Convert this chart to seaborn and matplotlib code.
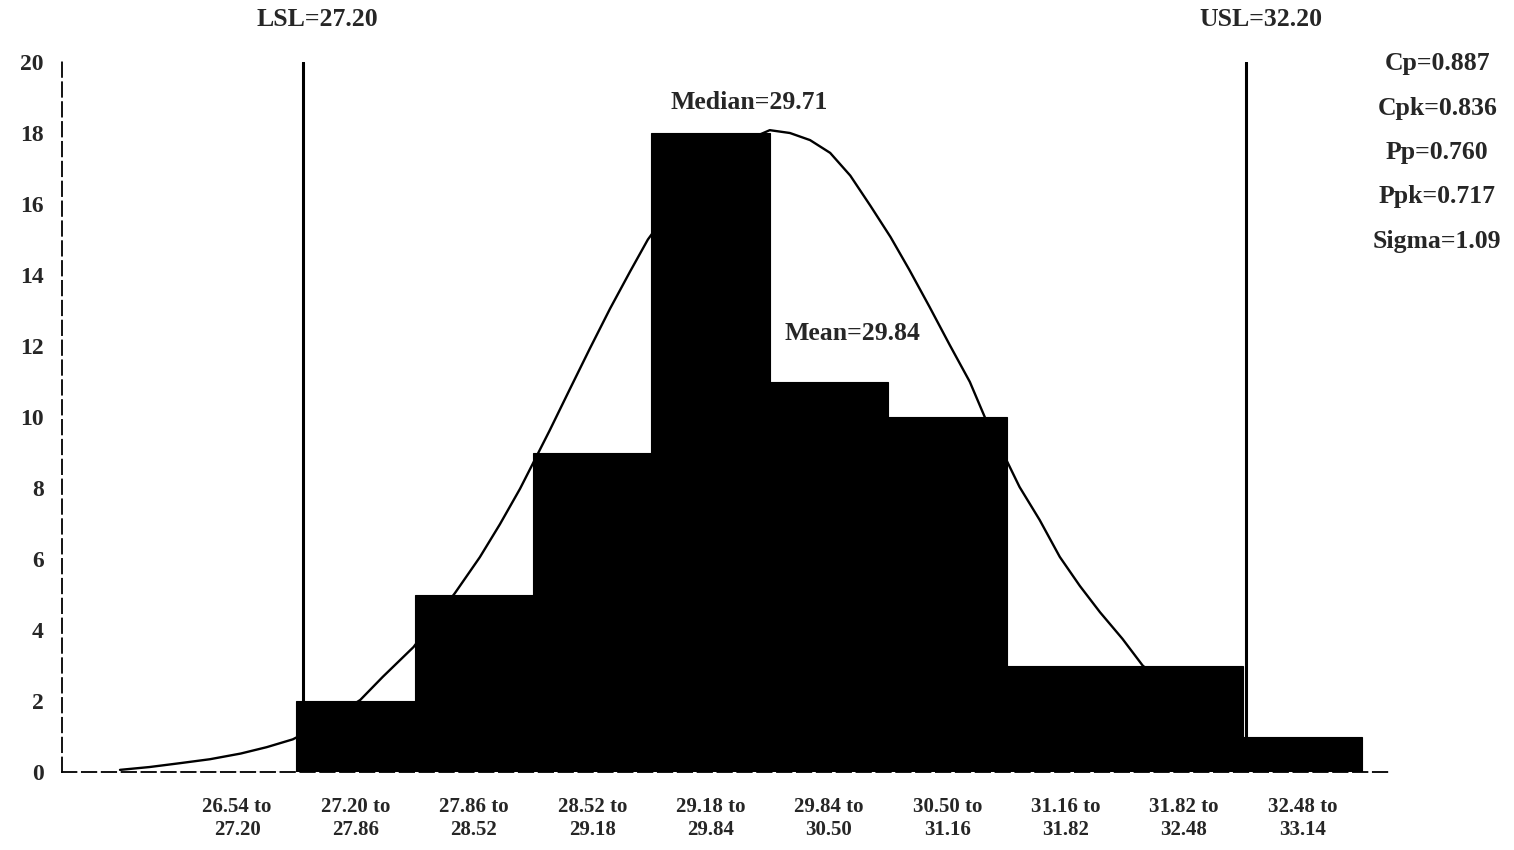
import numpy as np
import pandas as pd
import seaborn as sns
import matplotlib
matplotlib.use("Agg")
import matplotlib.pyplot as plt

# histogram bins and counts
bins = ['26.54 to\n27.20', '27.20 to\n27.86', '27.86 to\n28.52', '28.52 to\n29.18',
        '29.18 to\n29.84', '29.84 to\n30.50', '30.50 to\n31.16', '31.16 to\n31.82',
        '31.82 to\n32.48', '32.48 to\n33.14']
counts = [0, 2, 5, 9, 18, 11, 10, 3, 3, 1]

# fitted curve (x in bin-index units, y in counts)
curve_x = [-0.99, -0.74, -0.48, -0.23, 0.03, 0.25, 0.47, 0.75, 1.04, 1.23, 1.49,
           1.84, 2.05, 2.22, 2.39, 2.50, 2.64, 2.81, 2.98, 3.15, 3.32, 3.47,
           3.80, 4.10, 4.50, 4.67, 4.84, 5.01, 5.18, 5.35, 5.52, 5.68, 5.85,
           6.02, 6.19, 6.32, 6.40, 6.49, 6.61, 6.78, 6.95, 7.12, 7.29, 7.48,
           7.65, 8.00, 8.30]
curve_y = [0.06, 0.14, 0.25, 0.36, 0.52, 0.70, 0.92, 1.40, 2.03, 2.68, 3.52,
           5.04, 6.05, 6.98, 7.98, 8.70, 9.62, 10.78, 11.93, 13.05, 14.10, 15.00,
           16.50, 17.50, 18.08, 18.00, 17.80, 17.44, 16.80, 15.95, 15.07, 14.14, 13.10,
           12.03, 10.99, 9.97, 9.40, 8.85, 8.03, 7.10, 6.06, 5.24, 4.50, 3.75,
           3.00, 2.00, 1.40]

lsl, usl = 27.20, 32.20
median, mean = 29.71, 29.84
stat_names = ['Cp', 'Cpk', 'Pp', 'Ppk', 'Sigma']
stat_values = ['0.887', '0.836', '0.760', '0.717', '1.09']

df = pd.DataFrame({'bin': bins, 'count': counts})

sns.set_style('white')
plt.rcParams['font.family'] = ['Liberation Serif', 'DejaVu Serif']

fig = plt.figure(figsize=(15.14, 8.5), dpi=100)
ax = fig.add_axes([62 / 1514, 1 - 772 / 850, (1390 - 62) / 1514, (772 - 62) / 850])

sns.barplot(data=df, x='bin', y='count', color='black', width=1.0,
            saturation=1, edgecolor='black', linewidth=0.8, ax=ax, zorder=3)
ax.plot(curve_x, curve_y, color='black', lw=1.7, zorder=2,
        solid_joinstyle='round', solid_capstyle='round')

# spec limit lines
ax.axvline(0.56, color='black', lw=2.2, zorder=4)
ax.axvline(8.52, color='black', lw=2.2, zorder=4)

ax.set_xlim(-1.48, 9.74)
ax.set_ylim(0, 20)
ax.set_yticks(range(0, 21, 2))
ax.set_xlabel('')
ax.set_ylabel('')

for s in ['top', 'right']:
    ax.spines[s].set_visible(False)
for s in ['left', 'bottom']:
    ax.spines[s].set_linestyle((0, (8, 3)))
    ax.spines[s].set_linewidth(1.3)
    ax.spines[s].set_color('black')

ax.tick_params(axis='y', direction='inout', length=10, width=1.3, labelsize=17, pad=8)
ax.tick_params(axis='x', length=0, labelsize=15, pad=18)
for lab in ax.get_yticklabels() + ax.get_xticklabels():
    lab.set_fontweight('bold')

txt = dict(fontsize=18.5, fontweight='bold', ha='center', va='center', clip_on=False)
ax.text(0.68, 21.2, f'LSL={lsl:.2f}', **txt)
ax.text(8.65, 21.2, f'USL={usl:.2f}', **txt)
ax.text(4.33, 18.85, f'Median={median:.2f}', **txt)
ax.text(5.20, 12.35, f'Mean={mean:.2f}', **txt)

stat_y = [19.97, 18.70, 17.44, 16.20, 14.93]
for name, val, y in zip(stat_names, stat_values, stat_y):
    ax.text(10.14, y, f'{name}={val}', **txt)

fig.savefig('out.png', dpi=100)
